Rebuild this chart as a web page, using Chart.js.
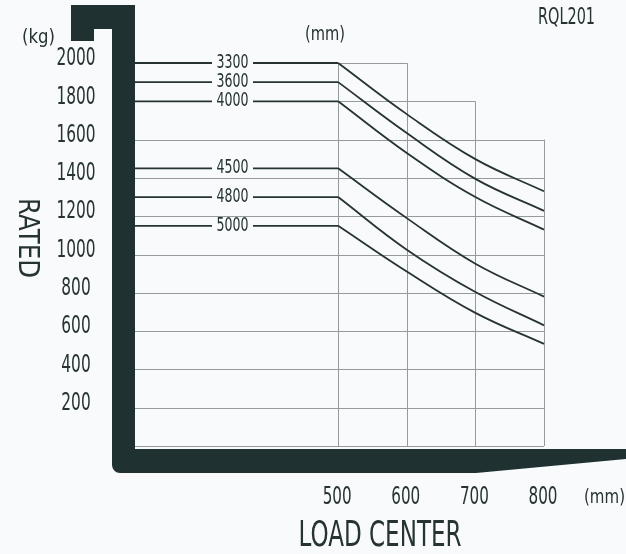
<!DOCTYPE html>
<html>
<head>
<meta charset="utf-8">
<script src="https://cdn.jsdelivr.net/npm/chart.js@4.4.0/dist/chart.umd.min.js"></script>
<style>
    html, body { margin: 0; padding: 0; background: #f8fafc; }
    #wrap { width: 626px; height: 554px; }
</style>
</head>
<body>
<div id="wrap"><canvas id="chart" width="626" height="554"></canvas></div>
<script>
// load center (mm) for the curved part
const loadCenters = [500, 600, 700, 800];
// lift height (mm) of each curve
const liftHeights = ['3300', '3600', '4000', '4500', '4800', '5000'];
// rated capacity (kg) at each load center, per lift height
const cap3300 = [2000, 1733, 1498, 1330];
const cap3600 = [1900, 1634, 1395, 1228];
const cap4000 = [1800, 1530, 1300, 1130];
const cap4500 = [1450, 1190, 952, 780];
const cap4800 = [1300, 1025, 804, 630];
const cap5000 = [1150, 911, 695, 533];
const capacities = [cap3300, cap3600, cap4000, cap4500, cap4800, cap5000];

const yTicks = [200, 400, 600, 800, 1000, 1200, 1400, 1600, 1800, 2000];
const xTicks = [500, 600, 700, 800];
// top of the grid above each load center (stepped grid)
const gridTops = [2000, 2000, 1800, 1600];

const X_MIN = 204;
const INK = '#273333';
const FORK = '#1f3131';
const BG = '#f8fafc';
const FONT = '"DejaVu Sans"';

const datasets = [];
capacities.forEach((cap, i) => {
    datasets.push({
        label: liftHeights[i],
        data: [{ x: X_MIN, y: cap[0] }, { x: loadCenters[0], y: cap[0] }],
        borderColor: INK,
        borderWidth: 1.8,
        pointRadius: 0,
        tension: 0
    });
    datasets.push({
        label: liftHeights[i] + ' curve',
        data: loadCenters.map((x, j) => ({ x: x, y: cap[j] })),
        borderColor: INK,
        borderWidth: 1.8,
        pointRadius: 0,
        tension: 0.4
    });
});

// draws text squeezed to a given width (condensed look)
function fitText(ctx, text, cx, cy, size, width, rotate) {
    ctx.save();
    ctx.font = size + 'px ' + FONT;
    const w = ctx.measureText(text).width;
    ctx.translate(cx, cy);
    if (rotate) ctx.rotate(rotate);
    ctx.scale(width / w, 1);
    ctx.textAlign = 'center';
    ctx.textBaseline = 'middle';
    ctx.fillStyle = INK;
    ctx.fillText(text, 0, 0);
    ctx.restore();
}

const forkPlugin = {
    id: 'forkPlugin',
    beforeDatasetsDraw(chart) {
        const { ctx, scales: { x, y } } = chart;
        ctx.save();
        ctx.strokeStyle = '#969a9a';
        ctx.lineWidth = 1;
        const lowestTop = Math.min(...gridTops);
        // horizontal grid rows
        [0, ...yTicks].forEach(v => {
            const start = v > lowestTop ? xTicks[0] : X_MIN;
            let end = xTicks[0];
            xTicks.forEach((t, j) => { if (gridTops[j] >= v) end = t; });
            const py = Math.round(y.getPixelForValue(v)) + 0.5;
            ctx.beginPath();
            ctx.moveTo(x.getPixelForValue(start), py);
            ctx.lineTo(x.getPixelForValue(end), py);
            ctx.stroke();
        });
        // vertical grid columns
        xTicks.forEach((t, j) => {
            const px = Math.round(x.getPixelForValue(t)) + 0.5;
            ctx.beginPath();
            ctx.moveTo(px, y.getPixelForValue(0));
            ctx.lineTo(px, y.getPixelForValue(gridTops[j]));
            ctx.stroke();
        });
        ctx.restore();
    },
    afterDatasetsDraw(chart) {
        const { ctx, chartArea: a, scales: { x, y } } = chart;
        ctx.save();

        // lift height labels sitting in a gap of each flat line
        capacities.forEach((cap, i) => {
            const py = y.getPixelForValue(cap[0]);
            ctx.fillStyle = BG;
            ctx.fillRect(212, py - 4, 41, 8);
            fitText(ctx, liftHeights[i], 232.5, py, 19, 32);
        });

        // fork outline
        const L = a.left, B = a.bottom;
        ctx.fillStyle = FORK;
        ctx.beginPath();
        ctx.moveTo(L - 64, 5);
        ctx.lineTo(L, 5);
        ctx.lineTo(L, B + 3);
        ctx.lineTo(626, B + 3);
        ctx.lineTo(626, B + 13);
        ctx.lineTo(476, B + 27);
        ctx.lineTo(L - 15, B + 27);
        ctx.arcTo(L - 23, B + 27, L - 23, B + 19, 8);
        ctx.lineTo(L - 23, 29);
        ctx.lineTo(L - 41, 29);
        ctx.lineTo(L - 41, 41);
        ctx.lineTo(L - 64, 41);
        ctx.closePath();
        ctx.fill();

        // y tick labels
        yTicks.forEach(v => {
            fitText(ctx, String(v), 76, y.getPixelForValue(v) - 4, 24, String(v).length * 9.8);
        });
        // x tick labels
        xTicks.forEach(v => {
            fitText(ctx, String(v), x.getPixelForValue(v) - 1, 497, 25, 29);
        });

        fitText(ctx, 'RQL201', 566.5, 18, 23, 57);
        fitText(ctx, '(mm)', 325, 35, 19, 40);
        fitText(ctx, '(kg)', 38.5, 38, 19, 33);
        fitText(ctx, '(mm)', 604.5, 498, 19, 41);
        fitText(ctx, 'LOAD CENTER', 380, 537, 35, 163);
        fitText(ctx, 'RATED', 27, 238, 29, 80, Math.PI / 2);

        ctx.restore();
    }
};

new Chart(document.querySelector('#chart'), {
    type: 'line',
    data: { datasets: datasets },
    options: {
        responsive: false,
        animation: false,
        clip: false,
        layout: { padding: { left: 135, right: 82, top: 63, bottom: 108 } },
        plugins: {
            legend: { display: false },
            tooltip: { enabled: false }
        },
        scales: {
            x: { type: 'linear', min: X_MIN, max: 800, display: false },
            y: { type: 'linear', min: 0, max: 2000, display: false }
        }
    },
    plugins: [forkPlugin]
});
</script>
</body>
</html>
